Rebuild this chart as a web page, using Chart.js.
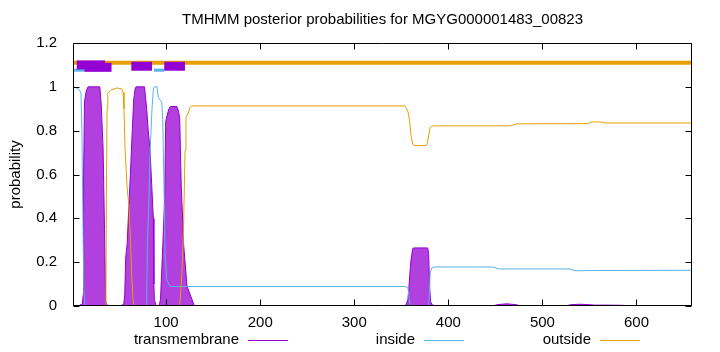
<!DOCTYPE html>
<html>
<head>
<meta charset="utf-8">
<script src="https://cdn.jsdelivr.net/npm/chart.js@4.4.1/dist/chart.umd.min.js"></script>
<style>
  html, body { margin: 0; padding: 0; background: #fff; }
</style>
</head>
<body>
<canvas id="myChart" width="720" height="352"></canvas>
<script>
const xTicks = [100, 200, 300, 400, 500, 600];
const yTicks = [0, 0.2, 0.4, 0.6, 0.8, 1, 1.2];

// posterior probabilities, [residue, probability]
const tmPoints = [
  [1, 0], [8, 0.003], [11, 0.01], [11.8, 0.05], [12.3, 0.6], [13.2, 0.93], [15, 0.98], [17, 1],
  [29.5, 1], [31, 0.92], [33, 0.72], [34.5, 0.35], [35.7, 0.02], [37, 0.005], [40, 0],
  [52, 0], [55, 0.01], [56, 0.05], [57, 0.22], [58.5, 0.28], [60, 0.42], [62, 0.6], [64, 0.8],
  [65.5, 0.94], [67, 0.99], [68, 1], [77, 1], [79.3, 0.9], [81, 0.8], [82.9, 0.71], [84.7, 0.55],
  [86.4, 0.4], [87, 0.1], [87.5, 0.03], [89, 0.005], [90, 0],
  [92, 0], [93, 0.01], [94, 0.03], [96.5, 0.28], [98.5, 0.5], [99.5, 0.84], [101, 0.87], [103, 0.9],
  [104.5, 0.91], [111.5, 0.91], [113, 0.89], [114.4, 0.86], [116, 0.56], [118.6, 0.28], [122.2, 0.09],
  [127.5, 0.03], [130, 0],
  [352, 0], [355, 0.005], [357, 0.03], [358, 0.08], [360, 0.2], [362, 0.26], [363, 0.265],
  [378, 0.265], [379, 0.24], [380, 0.1], [381, 0.02], [383, 0.005], [386, 0],
  [447, 0], [452, 0.006], [462, 0.01], [472, 0.006], [477, 0], [525, 0], [530, 0.006], [540, 0.008],
  [550, 0.006], [555, 0.004], [570, 0.004], [586, 0.003], [590, 0], [659, 0]
];
const insidePoints = [
  [1, 0.998], [5, 0.995], [8, 0.985], [9.5, 0.97], [10.5, 0.8], [11.5, 0.4], [12.5, 0.08], [13.5, 0.01],
  [15, 0], [79.3, 0], [80, 0.28], [81.5, 0.45], [82.9, 0.7], [85, 0.9], [86.4, 0.985], [87.3, 1],
  [90.3, 1], [91.7, 0.95], [95.3, 0.93], [96.4, 0.85], [97.7, 0.55], [98.8, 0.245], [100.6, 0.12],
  [104.1, 0.089], [353.4, 0.089], [357, 0.085], [358.5, 0.03], [359.6, 0], [378.7, 0], [379.5, 0.03],
  [380.7, 0.15], [382.3, 0.173], [385, 0.178], [446.4, 0.178], [454.9, 0.169], [529.3, 0.169],
  [534.6, 0.161], [560, 0.162], [659, 0.163]
];
const outsidePoints = [
  [1, 0], [35.5, 0], [36, 0.02], [36.5, 0.5], [37.2, 0.9], [38, 0.97], [41, 0.985], [48, 0.995],
  [53, 0.99], [54.2, 0.975], [55.2, 0.9], [56.3, 0.72], [58.4, 0.55], [60.5, 0.45], [62.1, 0.3],
  [63.4, 0.14], [64.8, 0.03], [66, 0], [114, 0], [115, 0.03], [116.6, 0.14], [118.3, 0.31],
  [120.1, 0.71], [121.1, 0.86], [123.6, 0.88], [125.4, 0.905], [127.2, 0.913], [353.4, 0.913],
  [356.9, 0.89], [358.7, 0.85], [360.5, 0.77], [362.2, 0.74], [363.5, 0.732], [376.5, 0.732],
  [377.5, 0.74], [379.2, 0.78], [380.7, 0.815], [383.5, 0.822], [465.5, 0.822], [469, 0.826],
  [473, 0.831], [548.5, 0.832], [551, 0.839], [557, 0.84], [563.4, 0.839], [566.5, 0.835], [659, 0.835]
];

// predicted topology drawn above the curves: [start, end, level]
const tmSegments = [[5, 35, 1.1], [13, 42, 1.089], [63, 85, 1.094], [98, 120, 1.094]];
const insideSegments = [[1, 13, 1.076], [87, 98, 1.076]];
const outsideSegments = [[1, 659, 1.11]];

const PURPLE = '#9400d3', BLUE = '#56b4e9', ORANGE = '#e69f00';
const FONT = 'Liberation Sans';

const toXY = pts => pts.map(p => ({ x: p[0], y: p[1] }));
const segs = (list, color, width, order) => list.map(s => ({
  data: [{ x: s[0], y: s[2] }, { x: s[1], y: s[2] }],
  borderColor: color, borderWidth: width, borderCapStyle: 'butt',
  pointRadius: 0, fill: false, order: order
}));

const datasets = [
  { label: 'transmembrane', legend: true, data: toXY(tmPoints), borderColor: PURPLE, borderWidth: 1,
    backgroundColor: '#b140df', fill: 'origin', pointRadius: 0, order: 10 },
  { label: 'inside', legend: true, data: toXY(insidePoints), borderColor: BLUE, borderWidth: 1,
    pointRadius: 0, fill: false, order: 9 },
  { label: 'outside', legend: true, data: toXY(outsidePoints), borderColor: ORANGE, borderWidth: 1,
    pointRadius: 0, fill: false, order: 8 },
  ...segs(outsideSegments, ORANGE, 4, 7),
  ...segs(insideSegments, BLUE, 3, 6),
  ...segs(tmSegments, PURPLE, 9, 5)
];

// gnuplot style border with inward ticks, and the key below the plot
const frame = {
  id: 'frame',
  afterDatasetsDraw(chart) {
    const { ctx, chartArea: a, scales } = chart;
    const L = Math.round(a.left) + 0.5, R = Math.round(a.right) - 0.5;
    const T = Math.round(a.top) + 0.5, B = Math.round(a.bottom) - 0.5;
    ctx.save();
    ctx.strokeStyle = '#000';
    ctx.lineWidth = 1;
    ctx.beginPath();
    ctx.rect(L, T, R - L, B - T);
    yTicks.forEach(v => {
      const p = Math.round(scales.y.getPixelForValue(v)) + 0.5;
      ctx.moveTo(L, p); ctx.lineTo(L + 6, p);
      ctx.moveTo(R, p); ctx.lineTo(R - 6, p);
    });
    xTicks.forEach(v => {
      const p = Math.round(scales.x.getPixelForValue(v)) + 0.5;
      ctx.moveTo(p, B); ctx.lineTo(p, B - 6);
      ctx.moveTo(p, T); ctx.lineTo(p, T + 6);
    });
    ctx.stroke();
    ctx.restore();
  },
  afterDraw(chart) {
    const { ctx } = chart;
    const items = chart.data.datasets.filter(d => d.legend);
    ctx.save();
    ctx.font = '15px "' + FONT + '"';
    ctx.textAlign = 'right';
    ctx.textBaseline = 'middle';
    items.forEach((d, i) => {
      const x = 239 + i * 176, y = 340;
      ctx.fillStyle = '#000';
      ctx.fillText(d.label, x, y);
      ctx.strokeStyle = d.borderColor;
      ctx.lineWidth = 1;
      ctx.beginPath();
      ctx.moveTo(x + 9, y + 0.5);
      ctx.lineTo(x + 49, y + 0.5);
      ctx.stroke();
    });
    ctx.restore();
  }
};

const ctx = document.getElementById('myChart').getContext('2d');
const myChart = new Chart(ctx, {
  type: 'line',
  data: { datasets: datasets },
  plugins: [frame],
  options: {
    responsive: false,
    animation: false,
    devicePixelRatio: 1,
    layout: { padding: { left: 0, right: 28, top: 0, bottom: 24 } },
    elements: { line: { tension: 0 } },
    plugins: {
      legend: { display: false },
      tooltip: { enabled: false },
      title: {
        display: true,
        text: 'TMHMM posterior probabilities for MGYG000001483_00823',
        color: '#000',
        font: { family: FONT, size: 15, weight: 'normal' },
        padding: { top: 11, bottom: 14 },
        fullSize: false
      }
    },
    scales: {
      x: {
        type: 'linear',
        min: 1,
        max: 659,
        grid: { display: false },
        border: { display: false },
        ticks: { color: '#000', font: { family: FONT, size: 15 }, padding: 0, maxRotation: 0, autoSkip: false },
        afterBuildTicks: s => { s.ticks = xTicks.map(v => ({ value: v })); },
        afterFit: s => { s.height = 22; }
      },
      y: {
        min: 0,
        max: 1.2,
        grid: { display: false },
        border: { display: false },
        ticks: { color: '#000', font: { family: FONT, size: 15 }, padding: 8, callback: v => String(v) },
        afterBuildTicks: s => { s.ticks = yTicks.map(v => ({ value: v })); },
        afterFit: s => { s.width = 73; },
        title: {
          display: true,
          text: 'probability',
          color: '#000',
          font: { family: FONT, size: 15 },
          padding: { top: 7, bottom: 0 }
        }
      }
    }
  }
});
</script>
</body>
</html>
